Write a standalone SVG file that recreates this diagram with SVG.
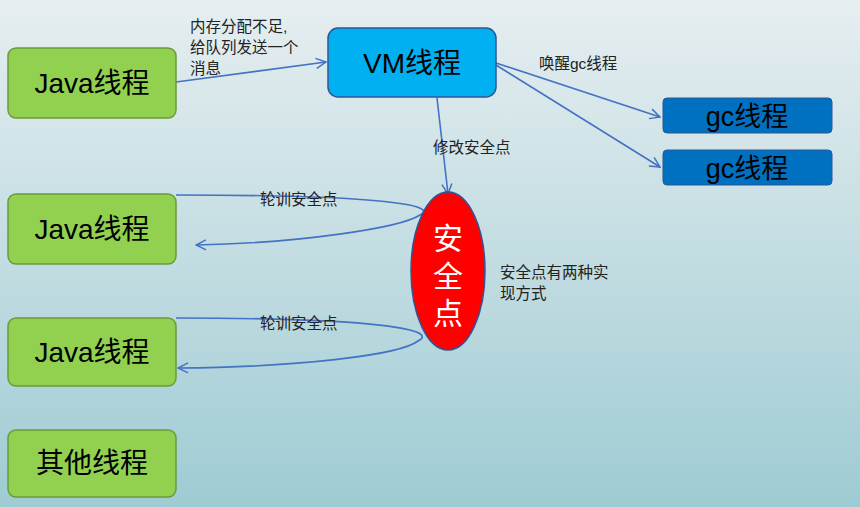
<svg xmlns="http://www.w3.org/2000/svg" width="860" height="507" viewBox="0 0 860 507">
<defs>
<linearGradient id="bg" x1="0" y1="0" x2="0" y2="1">
<stop offset="0" stop-color="#e6eef0"/><stop offset="0.5" stop-color="#c3dde2"/><stop offset="1" stop-color="#9ecbd3"/>
</linearGradient>
<marker id="ar" viewBox="0 0 12 12" refX="11" refY="6" markerWidth="12" markerHeight="12" markerUnits="userSpaceOnUse" orient="auto">
<path d="M1,1 L11,6 L1,11" fill="none" stroke="#4472c4" stroke-width="1.5"/>
</marker>
<style>
.j{fill:#92d050;stroke:#6a9a3a;stroke-width:1.5}
.t{font-family:"Liberation Sans","Noto Sans CJK SC",sans-serif;fill:#000}
.big{font-size:28px;text-anchor:middle}
.lb{font-size:15.5px;fill:#222}
.c{fill:none;stroke:#4472c4;stroke-width:1.6}
</style>
</defs>
<rect width="860" height="507" fill="url(#bg)"/>
<g id="connectors">
<path class="c" d="M176,82 L326,62" marker-end="url(#ar)"/>
<path class="c" d="M496,63 L660,117" marker-end="url(#ar)"/>
<path class="c" d="M496,65 L660,167" marker-end="url(#ar)"/>
<path class="c" d="M437,98 L448,194" marker-end="url(#ar)"/>
<path class="c" d="M176,195 C380,195 440,205 420,215 C400,228 300,243 196,245" marker-end="url(#ar)"/>
<path class="c" d="M176,318 C380,318 440,330 418,341 C400,355 300,367 178,368" marker-end="url(#ar)"/>
</g>
<g id="java1"><rect class="j" x="8" y="48" width="168" height="70" rx="8"/><text class="t big" x="92" y="93">Java线程</text></g>
<g id="java2"><rect class="j" x="8" y="194" width="168" height="70" rx="8"/><text class="t big" x="92" y="239">Java线程</text></g>
<g id="java3"><rect class="j" x="8" y="318" width="168" height="68" rx="8"/><text class="t big" x="92" y="362">Java线程</text></g>
<g id="other"><rect class="j" x="8" y="430" width="168" height="67" rx="8"/><text class="t big" x="92" y="473">其他线程</text></g>
<g id="vm"><rect x="328" y="28" width="168" height="69" rx="10" fill="#00b0f0" stroke="#2f5597" stroke-width="1.5"/><text class="t big" x="412" y="73">VM线程</text></g>
<g id="gc1"><rect x="663" y="98" width="169" height="35" rx="4" fill="#0070c0" stroke="#2f5597" stroke-width="1"/><text class="t" font-size="27" text-anchor="middle" x="747" y="126">gc线程</text></g>
<g id="gc2"><rect x="663" y="150" width="169" height="35" rx="4" fill="#0070c0" stroke="#2f5597" stroke-width="1"/><text class="t" font-size="27" text-anchor="middle" x="747" y="178">gc线程</text></g>
<g id="safepoint"><ellipse cx="448" cy="271" rx="37" ry="79" fill="#ff0000" stroke="#2f5597" stroke-width="1.5"/>
<text class="t" font-size="30" text-anchor="middle" style="fill:#fff" x="448" y="249">安</text>
<text class="t" font-size="30" text-anchor="middle" style="fill:#fff" x="448" y="287">全</text>
<text class="t" font-size="30" text-anchor="middle" style="fill:#fff" x="448" y="324">点</text></g>
<g id="labels">
<text class="t lb" x="190" y="32">内存分配不足,</text>
<text class="t lb" x="190" y="53">给队列发送一个</text>
<text class="t lb" x="190" y="74">消息</text>
<text class="t lb" x="539" y="69">唤醒gc线程</text>
<text class="t lb" x="433" y="153">修改安全点</text>
<text class="t lb" x="260" y="205">轮训安全点</text>
<text class="t lb" x="260" y="329">轮训安全点</text>
<text class="t lb" x="500" y="278">安全点有两种实</text>
<text class="t lb" x="500" y="299">现方式</text>
</g>
</svg>
